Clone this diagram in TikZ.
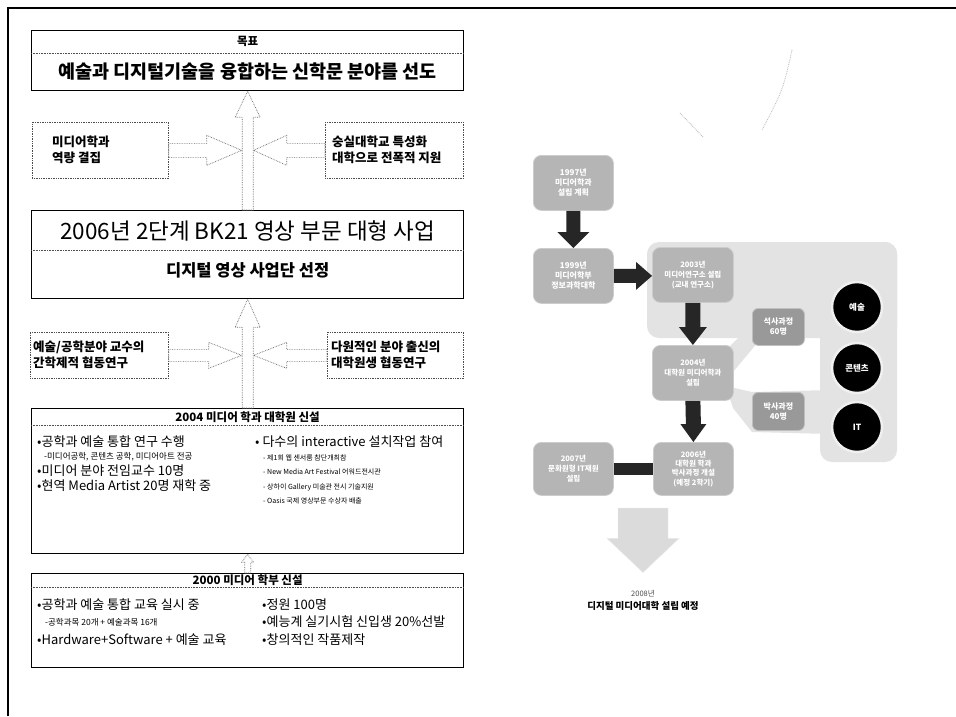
\documentclass[tikz,border=0pt]{standalone}
\usepackage{fontspec}
\setmainfont{Noto Sans CJK KR}
\usetikzlibrary{calc}
\newcommand{\fs}[1]{\fontsize{#1}{#1}\selectfont}
\newcommand{\fsl}[2]{\fontsize{#1}{#2}\selectfont}
% up-pointing block arrow: style, base, tip, shaft half, head half, head length
\newcommand{\upblk}[6]{\draw[#1] ($(#2)+(-#4,0)$) -- ($(#3)+(-#4,#6)$) -- ($(#3)+(-#5,#6)$) -- (#3) -- ($(#3)+(#5,#6)$) -- ($(#3)+(#4,#6)$) -- ($(#2)+(#4,0)$) -- cycle;}
\newcommand{\dnblk}[6]{\draw[#1] ($(#2)+(-#4,0)$) -- ($(#3)+(-#4,-#6)$) -- ($(#3)+(-#5,-#6)$) -- (#3) -- ($(#3)+(#5,-#6)$) -- ($(#3)+(#4,-#6)$) -- ($(#2)+(#4,0)$) -- cycle;}
\newcommand{\rtblk}[6]{\draw[#1] ($(#2)+(0,-#4)$) -- ($(#3)+(-#6,-#4)$) -- ($(#3)+(-#6,-#5)$) -- (#3) -- ($(#3)+(-#6,#5)$) -- ($(#3)+(-#6,#4)$) -- ($(#2)+(0,#4)$) -- cycle;}
\newcommand{\ltblk}[6]{\draw[#1] ($(#2)+(0,-#4)$) -- ($(#3)+(#6,-#4)$) -- ($(#3)+(#6,-#5)$) -- (#3) -- ($(#3)+(#6,#5)$) -- ($(#3)+(#6,#4)$) -- ($(#2)+(0,#4)$) -- cycle;}
\begin{document}
\begin{tikzpicture}[x=1pt,y=-1pt,
  mainbox/.style={draw=black, line width=1.3pt, inner sep=0pt, anchor=north west, minimum width=432pt},
  sidebox/.style={draw=black!70, densely dotted, line width=0.7pt, inner sep=0pt, anchor=north west},
  divider/.style={draw=black!70, densely dotted, line width=0.6pt},
  hollow/.style={draw=black!60, densely dotted, line width=0.7pt, fill=white},
  hdr/.style={font=\bfseries\fs{11.5}, inner sep=0pt},
  item/.style={font=\fs{13}, anchor=west, inner sep=0pt},
  subitem/.style={font=\fs{8.5}, anchor=west, inner sep=0pt},
  tinyitem/.style={font=\fs{7}, anchor=west, inner sep=0pt},
  sidetext/.style={font=\bfseries\fsl{12.5}{16.5}, align=left, anchor=west, inner sep=0pt},
  rbox/.style={draw=gray!40, line width=0.8pt, fill=gray!58, rounded corners=8pt, inner sep=0pt, anchor=north west, text=white, font=\bfseries\fsl{8}{10}, align=center},
  sbox/.style={draw=gray!50, line width=0.8pt, fill=gray!80, rounded corners=6pt, inner sep=0pt, anchor=north west, text=white, font=\bfseries\fsl{8}{10}, align=center, minimum width=52pt, minimum height=37pt},
  circ/.style={circle, fill=black, draw=gray!12, line width=2.5pt, minimum size=50pt, inner sep=0pt, text=white, font=\bfseries\fs{8.5}},
  darkarrow/.style={fill=black!85, draw=none},
  bgfill/.style={fill=gray!22, draw=none}
]
\useasboundingbox (0,0) rectangle (956,716);
\fill[white] (0,0) rectangle (956,716);
% outer frame
\draw[line width=2pt] (8,716) -- (8,8) -- (956,8);

% ===== left column =====
\node[mainbox, minimum height=60pt] (goal) at (31,30) {};
\draw[divider] ($(goal.north west)+(0,23)$) -- ($(goal.north east)+(0,23)$);
\node[hdr] (goalhdr) at ($(goal.north)+(0,11.5)$) {목표};
\node[font=\bfseries\fs{18.5}, inner sep=0pt] (goaltxt) at ($(goal.north)+(0,42)$) {예술과 디지털기술을 융합하는 신학문 분야를 선도};

\node[sidebox, minimum width=136pt, minimum height=56pt] (m1) at (32,122) {};
\node[sidebox, minimum width=138pt, minimum height=56pt] (m2) at (325,122) {};
\node[sidetext] (m1t) at (52,150) {미디어학과\\역량 결집};
\node[sidetext] (m2t) at (332,150) {숭실대학교 특성화\\대학으로 전폭적 지원};

\node[mainbox, minimum height=88pt] (bk) at (31,210) {};
\draw[divider] ($(bk.north west)+(0,40)$) -- ($(bk.north east)+(0,40)$);
\node[font=\fs{22.5}, inner sep=0pt] (bkt) at ($(bk.north)+(0,21)$) {2006년 2단계 BK21 영상 부문 대형 사업};
\node[font=\bfseries\fs{16.5}, inner sep=0pt] (bks) at ($(bk.north)+(0,60)$) {디지털 영상 사업단 선정};

\node[sidebox, minimum width=138pt, minimum height=46pt] (s1) at (30,332) {};
\node[sidebox, minimum width=136pt, minimum height=46pt] (s2) at (327,332) {};
\node[sidetext, font=\bfseries\fsl{12.5}{16}] (s1t) at (33,355) {예술/공학분야 교수의\\간학제적 협동연구};
\node[sidetext, font=\bfseries\fsl{12.5}{16}] (s2t) at (331,355) {다원적인 분야 출신의\\대학원생 협동연구};

\node[mainbox, minimum height=145pt] (g04) at (31,408) {};
\draw[divider] ($(g04.north west)+(0,17)$) -- ($(g04.north east)+(0,17)$);
\node[hdr] (g04h) at ($(g04.north)+(0,9)$) {2004 미디어 학과 대학원 신설};
\node[item] (a1) at (37,442) {•공학과 예술 통합 연구 수행};
\node[subitem] (a2) at (44,457) {-미디어공학, 콘텐츠 공학, 미디어아트 전공};
\node[item] (a3) at (37,471) {•미디어 분야 전임교수 10명};
\node[item] (a4) at (37,486) {•현역 Media Artist 20명 재학 중};
\node[item] (b1) at (255,442) {• 다수의 interactive 설치작업 참여};
\node[tinyitem] (b2) at (263,458) {- 제1회 웹 센서룸 참단개최참};
\node[tinyitem] (b3) at (263,472) {- New Media Art Festival 어워드전시관};
\node[tinyitem] (b4) at (263,487) {- 상하이 Gallery 미술관 전시 기술지원};
\node[tinyitem] (b5) at (263,501) {- Oasis 국제 영상부문 수상자 배출};

\node[mainbox, minimum height=94pt] (g00) at (31,573) {};
\draw[divider] ($(g00.north west)+(0,14)$) -- ($(g00.north east)+(0,14)$);
\node[hdr] (g00h) at ($(g00.north)+(0,7.5)$) {2000 미디어 학부 신설};
\node[item] (c1t) at (37,605) {•공학과 예술 통합 교육 실시 중};
\node[subitem] (c2t) at (45,622) {-공학과목 20개 + 예술과목 16개};
\node[item] (c3t) at (37,640) {•Hardware+Software + 예술 교육};
\node[item] (d1t) at (262,605) {•정원 100명};
\node[item] (d2t) at (262,622) {•예능계 실기시험 신입생 20\%선발};
\node[item] (d3t) at (262,640) {•창의적인 작품제작};

% hollow arrows
\upblk{hollow}{bk.north}{goal.south}{5.5}{12.5}{26}
\coordinate (t1) at ($(m1.east -| goal.south)+(-6,0)$);
\coordinate (t2) at ($(m2.west -| goal.south)+(6,0)$);
\rtblk{hollow}{m1.east}{t1}{7}{15}{35}
\ltblk{hollow}{m2.west}{t2}{7}{15}{33}
\upblk{hollow}{g04.north}{bk.south}{5.5}{12.5}{28}
\coordinate (t3) at ($(s1.east -| bk.south)+(-6,0)$);
\coordinate (t4) at ($(s2.west -| bk.south)+(6,0)$);
\rtblk{hollow}{s1.east}{t3}{6}{13}{33}
\ltblk{hollow}{s2.west}{t4}{6}{13}{33}
\upblk{hollow}{g00.north}{g04.south}{3}{6}{8}

% ===== right picture =====
% background group
\fill[bgfill, rounded corners=12pt] (647,242) rectangle (897,338);
\fill[bgfill, rounded corners=12pt] (820,242) rectangle (897,462);
\fill[bgfill] (726,350) -- (758,318) -- (758,342) -- (733,372) -- cycle;
\fill[bgfill] (726,386) -- (752,392) -- (830,390) -- (830,434) -- (752,432) -- (733,408) -- cycle;

\node[rbox, minimum width=80pt, minimum height=55pt] (ra) at (533,155) {1997년\\미디어학과\\설립 계획};
\node[rbox, minimum width=80pt, minimum height=55pt] (rb) at (533,248) {1999년\\미디어학부\\정보과학대학};
\node[rbox, minimum width=81pt, minimum height=55pt, font=\bfseries\fsl{7.5}{10}] (rc) at (652,247) {2003년\\미디어연구소 설립\\(교내 연구소)};
\node[rbox, minimum width=81pt, minimum height=55pt, font=\bfseries\fsl{7.5}{10}] (rd) at (652,345) {2004년\\대학원 미디어학과\\설립};
\node[rbox, minimum width=80pt, minimum height=53pt, font=\bfseries\fsl{7.5}{9.2}] (re) at (653,442) {2006년\\대학원 학과\\박사과정 개설\\(예정 2학기)};
\node[rbox, minimum width=80pt, minimum height=53pt, font=\bfseries\fsl{7.5}{10}] (rf) at (533,442) {2007년\\문화원형 IT재원\\설립};
\node[sbox] (sb1) at (752,308) {석사과정\\60명};
\node[sbox, minimum height=38pt] (sb2) at (752,392) {박사과정\\40명};
\node[circ] (ca) at (857,307) {예술};
\node[circ] (cb) at (857,368) {콘텐츠};
\node[circ] (cc) at (857,427) {IT};

\dnblk{darkarrow}{ra.south}{rb.north}{7}{16}{16}
\coordinate (bc) at (rb.east -| rc.west);
\rtblk{darkarrow}{rb.east}{bc}{7}{14}{16}
\dnblk{darkarrow}{rc.south}{rd.north}{7.5}{14}{18}
\dnblk{darkarrow}{rd.south}{re.north}{7.5}{13}{18}
\draw[black!85, line width=12pt] (rf.east) -- (re.west);

% big light arrow and caption
\coordinate (bigtop) at (643,508);
\node[font=\fs{7.5}, inner sep=0pt, text=black!70] (yr) at (643,594) {2008년};
\node[font=\bfseries\fs{9.5}, inner sep=0pt] (cap) at (643,606) {디지털 미디어대학 설립 예정};
\coordinate (bigtip) at ($(yr.north)+(0,-18)$);
\dnblk{fill=gray!28, draw=gray!15}{bigtop}{bigtip}{25}{36}{34}

% scan scribbles
\draw[gray!55, densely dotted, line width=0.8pt] (680,113) -- (703,137);
\draw[gray!55, densely dotted, line width=0.8pt] (792,50) .. controls (783,90) .. (762,130);
\end{tikzpicture}
\end{document}
